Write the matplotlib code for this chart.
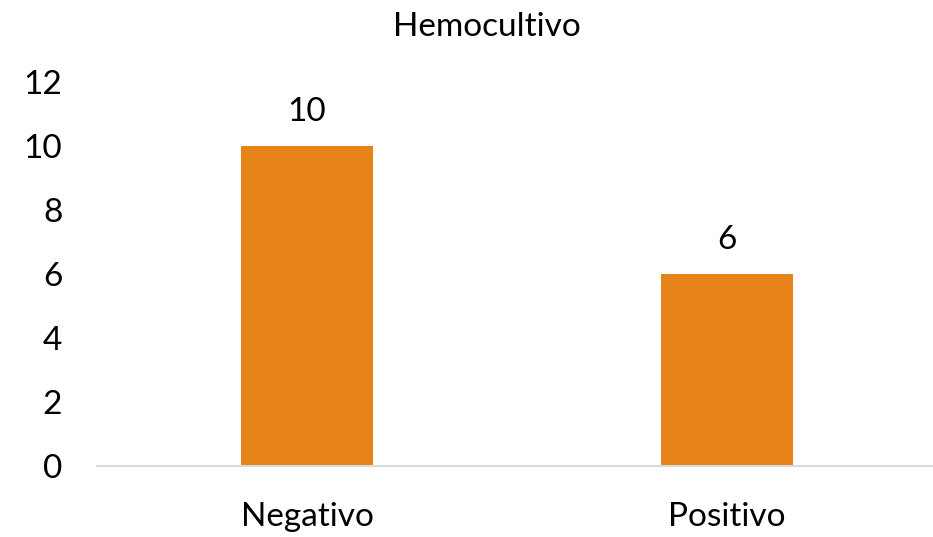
import matplotlib.pyplot as plt

categorias = ["Negativo", "Positivo"]
valores = [10, 6]
yticks = [0, 2, 4, 6, 8, 10, 12]

plt.rcParams['font.family'] = ['Lato', 'DejaVu Sans']

fig = plt.figure(figsize=(9.33, 5.37), dpi=100)
ax = fig.add_axes([97 / 933, 71 / 537, 836 / 933, 384 / 537])

pos = list(range(len(categorias)))
bars = ax.bar(pos, valores, width=0.314, color='#E6841A', zorder=2)

for b, v in zip(bars, valores):
    ax.annotate(str(v), (b.get_x() + b.get_width() / 2, v), xytext=(0, 14),
                textcoords='offset points', ha='center', va='bottom', fontsize=24)

ax.set_xlim(-0.5, 1.49)
ax.set_ylim(0, 12)
ax.set_yticks(yticks)
ax.set_xticks(pos)
ax.set_xticklabels(categorias)
ax.tick_params(axis='both', length=0, labelsize=24)
ax.tick_params(axis='y', pad=25)
ax.tick_params(axis='x', pad=26)

for s in ['top', 'right', 'left']:
    ax.spines[s].set_visible(False)
ax.spines['bottom'].set_color('#D9D9D9')
ax.spines['bottom'].set_linewidth(1.5)

fig.text(487 / 933, 1 - 36 / 537, "Hemocultivo", ha='center', va='baseline', fontsize=24)

fig.savefig('out.png', dpi=100)
